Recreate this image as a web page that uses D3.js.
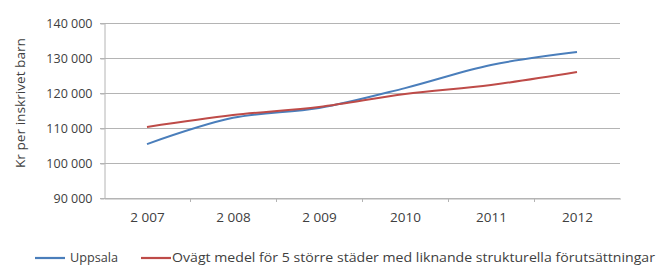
<html>
<head>
<script src="https://d3js.org/d3.v7.min.js"></script>
<style>
body {margin: 0; background: #fff; font-family: "Open Sans", Arial, sans-serif;}
.grid line {stroke: #b4b4b4; stroke-width: 1;}
.tick text {fill: #404040;}
</style>
</head>
<body>
<svg width="658" height="269"></svg>
<script>

// data
var years = ["2 007", "2 008", "2 009", "2010", "2011", "2012"];
var uppsala = [105400, 112900, 115700, 121400, 128000, 131700];
var ovagt = [110300, 113700, 116000, 119700, 122300, 126000];
var yTicks = [90000, 100000, 110000, 120000, 130000, 140000];
var seriesNames = ["Uppsala", "Ovägt medel för 5 större städer med liknande strukturella förutsättningar"];
var seriesColors = ["#4a7ebb", "#be4b48"];

var svg = d3.select("svg");
var pLeft = 104, pRight = 620, pTop = 23, pBottom = 198;

var x = d3.scaleBand().domain(years).range([pLeft, pRight]);
var y = d3.scaleLinear().domain([90000, 140000]).range([pBottom, pTop]);

var fmt = function(d) { return d3.format(",")(d).replace(",", " "); };

// gridlines
svg.append("g").attr("class", "grid")
  .selectAll("line").data(yTicks).enter().append("line")
    .attr("x1", pLeft - 4).attr("x2", pRight)
    .attr("y1", function(d) { return y(d) + 0.5; })
    .attr("y2", function(d) { return y(d) + 0.5; });

// y axis
var yAxis = svg.append("g")
  .attr("transform", "translate(" + (pLeft + 0.5) + ",0.5)")
  .call(d3.axisLeft(y).tickValues(yTicks).tickFormat(fmt).tickSize(4).tickSizeOuter(0).tickPadding(8));
yAxis.select(".domain").attr("stroke", "#b4b4b4");
yAxis.selectAll(".tick line").attr("stroke", "#b4b4b4");
yAxis.selectAll("text").style("font-size", "12.5px").style("font-family", "Open Sans, Arial");

// x axis
var xAxis = svg.append("g")
  .attr("transform", "translate(0.5," + (pBottom + 0.5) + ")")
  .call(d3.axisBottom(x).tickSize(0).tickPadding(14));
xAxis.select(".domain").attr("stroke", "#b4b4b4");
xAxis.selectAll("text").style("font-size", "13.5px").style("font-family", "Open Sans, Arial");
// small ticks between categories
svg.append("g").selectAll("line").data(years.slice(1)).enter().append("line")
  .attr("x1", function(d) { return x(d) + 0.5; })
  .attr("x2", function(d) { return x(d) + 0.5; })
  .attr("y1", pBottom).attr("y2", pBottom + 4)
  .attr("stroke", "#b4b4b4");

// lines
var line = d3.line()
  .x(function(d, i) { return x(years[i]) + x.bandwidth() / 2; })
  .y(function(d) { return y(d); })
  .curve(d3.curveMonotoneX);

[uppsala, ovagt].forEach(function(s, i) {
  svg.append("path")
    .datum(s)
    .attr("d", line)
    .attr("fill", "none")
    .attr("stroke", seriesColors[i])
    .attr("stroke-width", 2);
});

// y label
svg.append("text")
  .attr("transform", "translate(25,103) rotate(-90)")
  .attr("text-anchor", "middle")
  .attr("textLength", 130)
  .attr("lengthAdjust", "spacingAndGlyphs")
  .style("font-size", "13.5px")
  .attr("fill", "#404040")
  .text("Kr per inskrivet barn");

// legend
var legX = [35, 141];
var legW = [48, 483];
seriesNames.forEach(function(n, i) {
  svg.append("line")
    .attr("x1", legX[i]).attr("x2", legX[i] + 30)
    .attr("y1", 258).attr("y2", 258)
    .attr("stroke", seriesColors[i]).attr("stroke-width", 2.2);
  svg.append("text")
    .attr("x", legX[i] + (i == 0 ? 35 : 31))
    .attr("y", 262)
    .attr("textLength", legW[i])
    .attr("lengthAdjust", "spacingAndGlyphs")
    .style("font-size", "13px")
    .attr("fill", "#404040")
    .text(n);
});

</script>
</body>
</html>
